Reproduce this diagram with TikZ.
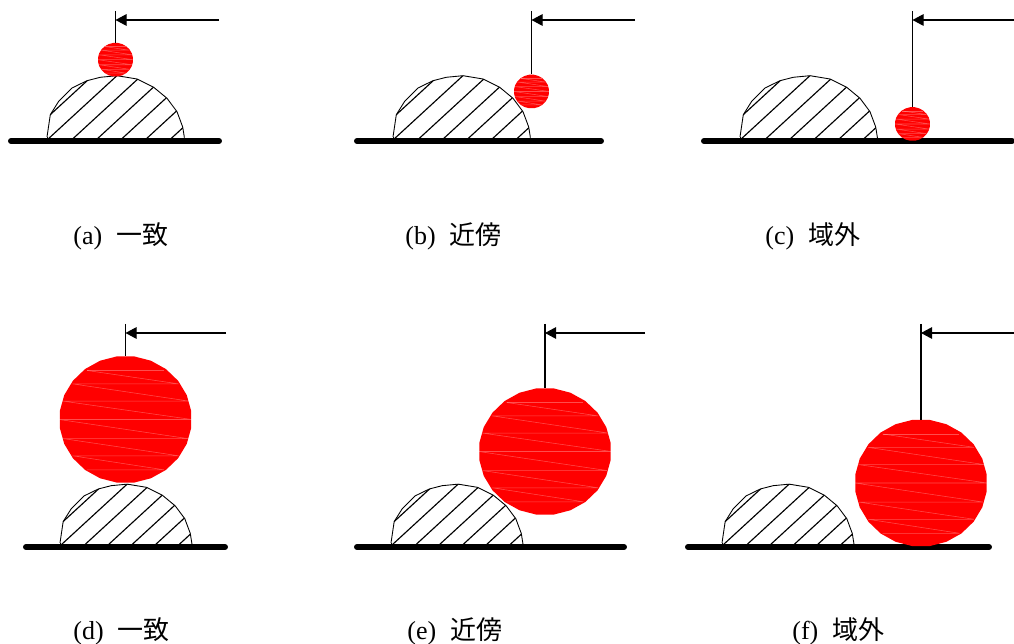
\documentclass[tikz,border=0pt]{standalone}
\usepackage{fontspec}
\setmainfont{Liberation Serif}
\newfontfamily\cjk{Noto Sans CJK JP}
\usetikzlibrary{arrows.meta,shapes.geometric}
\newcommand{\domepath}{(0,0) -- (3.3,-22.3) -- (11.7,-35.7) -- (25,-49) -- (40,-56.3) -- (53.3,-59.7) -- (70,-61.3) -- (90,-58) -- (106.7,-49.7) -- (120,-38.7) -- (130,-25.3) -- (135.7,-10) -- (137.3,0)}
\begin{document}
\begin{tikzpicture}[
        x=0.02cm, y=-0.02cm,
        ball/.style={draw=none, fill=red, regular polygon, regular polygon sides=24, inner sep=0pt, transform shape},
        stripe/.style={draw=white, opacity=0.3, line width=0.3pt},
        ground/.style={draw, line width=3.4pt, line cap=round},
        dome/.style={draw, line width=0.5pt},
        hatch/.style={draw, line width=0.65pt},
        pointer/.style={draw, line width=0.6pt},
        caption/.style={anchor=west, inner sep=0pt, font=\fontsize{14.8}{17}\selectfont},
    ]
    \useasboundingbox (0,0) rectangle (1014,644);
    \foreach \name/\gl/\gr/\gy/\dl/\ds/\bx/\by/\br/\ty/\tx/\lx/\ly/\lab in {
        a/11/219/141/47/1/115.5/59.7/17.6/11/219/73/236/{(a)\hspace{0.55em}{\cjk 一致}},
        b/357/601/141/393/1/531.5/91.5/17.6/11/635/405/236/{(b)\hspace{0.55em}{\cjk 近傍}},
        c/704/1012/141/740/1/912.5/124/17.6/11/1014/765/236/{(c)\hspace{0.55em}{\cjk 域外}},
        d/26/225/547/60/0.96/125.5/419.5/66.3/324/226/73/631/{(d)\hspace{0.55em}{\cjk 一致}},
        e/357/624/547/391/0.96/545/451.5/66.3/324/645/407/631/{(e)\hspace{0.55em}{\cjk 近傍}},
        f/688/989/547/722/0.96/921/483/66.3/324/1014/792/631/{(f)\hspace{0.55em}{\cjk 域外}}%
    }{
        \begin{scope}[shift={(\dl,\gy-4)}, scale=\ds]
            \draw[dome] \domepath -- (137.3,4);
            \draw[dome] (0,0) -- (0,4);
            \begin{scope}
                \clip \domepath -- (137.3,4) -- (0,4) -- cycle;
                \foreach \hx in {-21,3.3,27.8,52.3,76.8,101.3,125.8}{
                    \draw[hatch] (\hx-4.35,4) -- ++(74.35,-68.4);
                }
            \end{scope}
        \end{scope}
        \coordinate (groundl\name) at (\gl,\gy);
        \coordinate (groundr\name) at (\gr,\gy);
        \draw[ground] (groundl\name) -- (groundr\name);
        \begin{scope}[shift={(\bx,\by)}, yscale=0.96]
            \node[ball, minimum size={2*\br*0.02cm}](ball\name) at (0,0){};
            \begin{scope}[scale=\br]
                \draw[stripe] (-0.58,-0.77) -- (0.80,-0.56) -- (-0.80,-0.56) -- (0.95,-0.29) -- (-0.95,-0.29) -- (1,0) -- (-1,0) -- (0.94,0.30) -- (-0.94,0.30) -- (0.80,0.57) -- (-0.80,0.57) -- (0.58,0.79) -- (-0.58,0.79);
                \draw[stripe] (-0.58,-0.77) -- (0.58,-0.77);
            \end{scope}
        \end{scope}
        \coordinate (top\name) at (\bx,\ty);
        \coordinate (hit\name) at (\bx,\ty+9);
        \coordinate (tail\name) at (\tx,\ty+9);
        \draw[pointer] (top\name) -- (ball\name.north);
        \draw[pointer, -{Triangle[length=6.3pt, width=6.6pt]}] (tail\name) -- (hit\name);
        \node[caption](cap\name) at (\lx,\ly){\lab};
    }
\end{tikzpicture}
\end{document}
